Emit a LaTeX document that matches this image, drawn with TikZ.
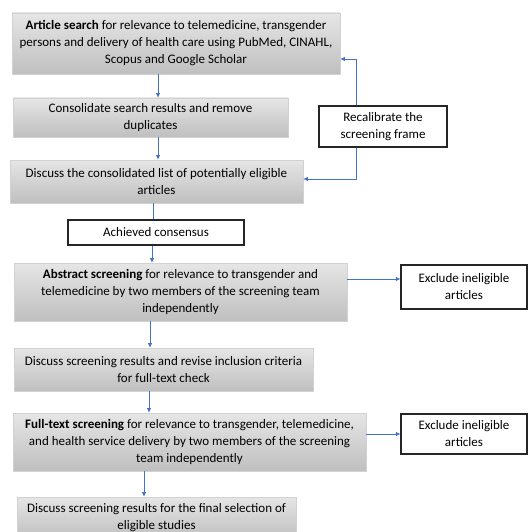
\documentclass[tikz,border=0pt]{standalone}
\usepackage{fontspec}
\setmainfont{Carlito}
\usetikzlibrary{arrows.meta}
\definecolor{flowblue}{HTML}{4472C4}
\begin{document}
\begin{tikzpicture}[x=1pt,y=-1pt,
    stage/.style={top color=gray!20, bottom color=gray!50, draw=gray!35, line width=0.6pt,
      align=center, inner sep=0pt, font=\fontsize{13}{17}\selectfont},
    note/.style={fill=white, draw=black!85, line width=1.1pt,
      align=center, inner sep=0pt, font=\fontsize{13}{17}\selectfont},
    flow/.style={draw=flowblue, line width=0.8pt, -{Latex[length=4.5pt,width=4.5pt]}},
    bareflow/.style={draw=flowblue, line width=0.8pt}]
    \useasboundingbox (0,0) rectangle (528,532);
    \node[stage, minimum width=328pt, minimum height=61pt] at (176,43.5) (srch)
      {\textbf{Article search} for relevance to telemedicine, transgender\\persons and delivery of health care using PubMed, CINAHL,\\Scopus and Google Scholar};
    \node[stage, minimum width=275pt, minimum height=39pt] at (150.5,117.5) (cons)
      {Consolidate search results and remove\\duplicates};
    \node[stage, minimum width=293pt, minimum height=43pt] at (156.5,181.5) (disc)
      {Discuss the consolidated list of potentially eligible\\articles};
    \node[note, minimum width=176pt, minimum height=25pt] at (156,232.5) (agree)
      {Achieved consensus};
    \node[stage, minimum width=333pt, minimum height=58pt] at (180.5,292) (abs)
      {\textbf{Abstract screening} for relevance to transgender and\\telemedicine by two members of the screening team\\independently};
    \node[note, minimum width=126pt, minimum height=44pt] at (464,287) (exc1)
      {Exclude ineligible\\articles};
    \node[stage, minimum width=299pt, minimum height=43pt] at (163.5,369.5) (rev)
      {Discuss screening results and revise inclusion criteria\\for full-text check};
    \node[stage, minimum width=353pt, minimum height=58pt] at (189.5,442) (full)
      {\textbf{Full-text screening} for relevance to transgender, telemedicine,\\and health service delivery by two members of the screening\\team independently};
    \node[note, minimum width=126pt, minimum height=40pt] at (464,434) (exc2)
      {Exclude ineligible\\articles};
    \node[stage, minimum width=279pt, minimum height=42pt] at (156.5,518) (fin)
      {Discuss screening results for the final selection of\\eligible studies};
    \node[note, minimum width=128pt, minimum height=41pt] at (383,126.5) (recal)
      {Recalibrate the\\screening frame};
    \draw[flow] (srch.south -| 158,0) -- (cons.north -| 158,0);
    \draw[flow] (cons.south -| 158,0) -- (disc.north -| 158,0);
    \draw[bareflow] (disc.south -| 153,0) -- (agree.north -| 153,0);
    \draw[flow] (agree.south -| 152,0) -- (abs.north -| 152,0);
    \draw[flow] (abs.south -| 150,0) -- (rev.north -| 150,0);
    \draw[flow] (rev.south -| 149,0) -- (full.north -| 149,0);
    \draw[flow] (full.south -| 144,0) -- (fin.north -| 144,0);
    \draw[flow] (abs.east |- 0,279) -- (exc1.west |- 0,279);
    \draw[flow] (full.east |- exc2.west) -- (exc2.west);
    \draw[flow] (recal.north -| 356,0) |- (srch.east |- 0,59);
    \draw[flow] (recal.south -| 356,0) |- (disc.east |- 0,179);
  \end{tikzpicture}
\end{document}
